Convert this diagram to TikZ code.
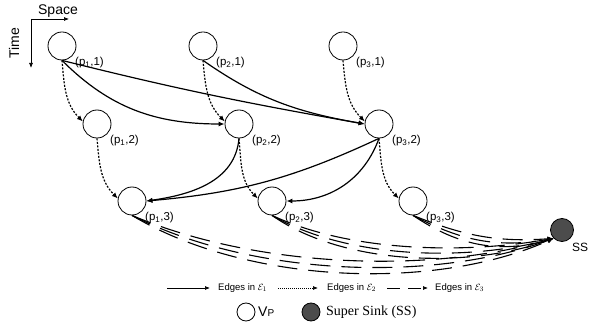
\documentclass[tikz,border=0pt]{standalone}
\usepackage{fontspec}
\setmainfont{Liberation Sans}
\newfontfamily\serifrm{Liberation Serif}
\usetikzlibrary{arrows.meta}
\begin{document}
\begin{tikzpicture}[x=1pt,y=1pt,
  vtx/.style={circle,draw,line width=0.8pt,minimum size=28pt,inner sep=0pt},
  lbl/.style={anchor=west,inner sep=0pt,font=\fontsize{11.5}{13}\selectfont},
  tip/.style={-{Latex[length=6pt,width=5pt]}},
  eone/.style={tip,line width=1.2pt},
  etwo/.style={tip,line width=1.2pt,dash pattern=on 2pt off 1.5pt},
  ethree/.style={tip,line width=1.1pt,dash pattern=on 20pt off 11pt},
  smalltip/.style={-{Latex[length=5pt,width=4pt]},line width=0.7pt},
  legtxt/.style={anchor=west,inner sep=0pt,font=\fontsize{9.5}{11}\selectfont},
]
\useasboundingbox (0,0) rectangle (592,324);

% axes
\coordinate (corner) at (31,305);
\coordinate (spaceEnd) at (69,305);
\coordinate (timeEnd) at (31,256);
\draw[smalltip] (corner) -- (spaceEnd);
\draw[smalltip] (corner) -- (timeEnd);
\node[font=\fontsize{14}{16}\selectfont,inner sep=0pt] (space) at (58,313) {Space};
\node[font=\fontsize{14}{16}\selectfont,inner sep=0pt,rotate=90] (time) at (14,281) {Time};

% vertices
\node[vtx] (p11) at (62,278) {};
\node[vtx] (p21) at (203,278) {};
\node[vtx] (p31) at (343,278) {};
\node[vtx] (p12) at (97,200) {};
\node[vtx] (p22) at (239,200) {};
\node[vtx] (p32) at (379,200) {};
\node[vtx] (p13) at (132,123) {};
\node[vtx] (p23) at (272,123) {};
\node[vtx] (p33) at (413,123) {};
\node[circle,draw,line width=0.8pt,fill=black!70,minimum size=23pt,inner sep=0pt] (ss) at (562,94) {};

% vertex labels
\node[lbl] (l11) at (75,261) {(p\textsubscript{1},1)};
\node[lbl] (l21) at (216,261) {(p\textsubscript{2},1)};
\node[lbl] (l31) at (356,261) {(p\textsubscript{3},1)};
\node[lbl] (l12) at (110,183) {(p\textsubscript{1},2)};
\node[lbl] (l22) at (252,183) {(p\textsubscript{2},2)};
\node[lbl] (l32) at (392,183) {(p\textsubscript{3},2)};
\node[lbl] (l13) at (145,106) {(p\textsubscript{1},3)};
\node[lbl] (l23) at (285,106) {(p\textsubscript{2},3)};
\node[lbl] (l33) at (426,106) {(p\textsubscript{3},3)};
\node[lbl,font=\fontsize{12}{14}\selectfont] (lss) at (572,77) {SS};

% edges in E1
\draw[eone] (p11.south) to[out=-45,in=180] (p22.west);
\draw[eone] (p11.south) to[out=-14,in=170] (p32.west);
\draw[eone] (p21.south) to[out=-35,in=170] (p32.west);
\draw[eone] (p22.south) to[out=-95,in=8] (p13.east);
\draw[eone] (p32.south) to[out=-155,in=5] (p13.east);
\draw[eone] (p32.south) to[out=-110,in=0] (p23.east);

% edges in E2
\draw[etwo] (p11.south) to[out=-85,in=135] (p12.170);
\draw[etwo] (p12.south) to[out=-85,in=135] (p13.170);
\draw[etwo] (p21.south) to[out=-85,in=135] (p22.170);
\draw[etwo] (p22.south) to[out=-85,in=135] (p23.170);
\draw[etwo] (p31.south) to[out=-85,in=135] (p32.170);
\draw[etwo] (p32.south) to[out=-85,in=135] (p33.170);

% edges in E3: a bundle of three from every (p_i,3) to the super sink
\foreach \o/\i in {-23/196,-27/200,-31/204} {
  \draw[ethree] (p13.south) to[out=\o,in=\i,looseness=0.8] (ss.south west);
}
\foreach \o/\i in {-25/190,-30/195,-35/200} {
  \draw[ethree] (p23.south) to[out=\o,in=\i,looseness=0.8] (ss.south west);
}
\foreach \o/\i in {-22/184,-28/190,-34/196} {
  \draw[ethree] (p33.south) to[out=\o,in=\i] (ss.south west);
}

% legend, first row
\coordinate (a1) at (167,36); \coordinate (b1) at (210,36);
\coordinate (a2) at (278,36); \coordinate (b2) at (318,36);
\coordinate (a3) at (387,36); \coordinate (b3) at (428,36);
\draw[smalltip] (a1) -- (b1);
\draw[smalltip,dash pattern=on 1pt off 1pt] (a2) -- (b2);
\draw[smalltip,dash pattern=on 13pt off 8pt] (a3) -- (b3);
\node[legtxt] (t1) at (218,36) {Edges in $\mathcal{E}_1$};
\node[legtxt] (t2) at (327,36) {Edges in $\mathcal{E}_2$};
\node[legtxt] (t3) at (435,36) {Edges in $\mathcal{E}_3$};

% legend, second row
\node[circle,draw,line width=0.8pt,minimum size=18pt,inner sep=0pt] (kv) at (246,12) {};
\node[anchor=west,inner sep=0pt] (kvt) at (258,12) {\fontsize{14}{16}\selectfont V\fontsize{10}{12}\selectfont P};
\node[circle,draw,line width=0.8pt,fill=black!70,minimum size=18pt,inner sep=0pt] (ks) at (311,12) {};
\node[anchor=west,inner sep=0pt,font=\serifrm\fontsize{14}{16}\selectfont] (kst) at (326,12) {Super Sink (SS)};
\end{tikzpicture}
\end{document}
